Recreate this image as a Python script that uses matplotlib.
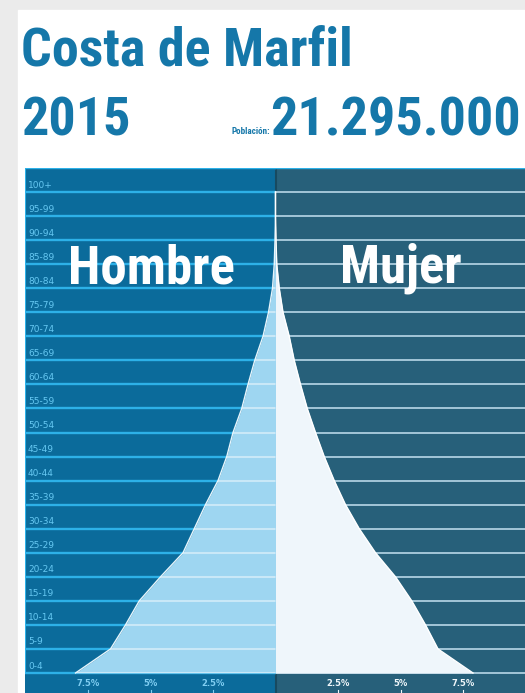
import matplotlib
matplotlib.use("Agg")
import matplotlib.pyplot as plt
from matplotlib import font_manager
from matplotlib.patches import Rectangle

# Population share by age group, % (bottom to top)
ages = ["0-4", "5-9", "10-14", "15-19", "20-24", "25-29", "30-34", "35-39",
        "40-44", "45-49", "50-54", "55-59", "60-64", "65-69", "70-74",
        "75-79", "80-84", "85-89", "90-94", "95-99", "100+"]
male = [8.0, 6.6, 6.0, 5.45, 4.6, 3.7, 3.25, 2.8, 2.3, 1.95, 1.7, 1.35,
        1.1, 0.83, 0.5, 0.28, 0.12, 0.05, 0.02, 0.0, 0.0]
female = [7.9, 6.5, 6.0, 5.45, 4.8, 4.0, 3.35, 2.8, 2.35, 1.95, 1.6, 1.27,
          1.0, 0.75, 0.55, 0.3, 0.15, 0.05, 0.02, 0.0, 0.0]
ticks = [-7.5, -5, -2.5, 2.5, 5, 7.5]
tick_labels = ["7.5%", "5%", "2.5%", "2.5%", "5%", "7.5%"]

country = "Costa de Marfil"
year = "2015"
population = "21.295.000"

BLUE = "#0b6b9b"
TEAL = "#27607a"
CYAN = "#2db1e8"
LIGHT = "#9ed6f1"
WHITE_FILL = "#eff6fb"
TITLE = "#1577a9"

# pick a narrow bold face for the headline text
installed = {f.name for f in font_manager.fontManager.ttflist}
narrow = dict(family="DejaVu Sans", stretch="condensed")
for name in ["Roboto Condensed", "Liberation Sans Narrow", "Open Sans Condensed"]:
    if name in installed:
        narrow = dict(family=name)
        break

W, H = 525, 693
fig = plt.figure(figsize=(W / 100, H / 100), dpi=100, facecolor="#ebebeb")
fig.patches.append(Rectangle((18 / W, 0), 1, (H - 10) / H, transform=fig.transFigure,
                             color="white", zorder=-5))

# headline
fig.text(21 / W, 1 - 65 / H, country, fontsize=39, fontweight="bold",
         color=TITLE, ha="left", va="baseline", **narrow)
fig.text(21 / W, 1 - 135 / H, year, fontsize=39, fontweight="bold",
         color=TITLE, ha="left", va="baseline", **narrow)
fig.text(521 / W, 1 - 135 / H, population, fontsize=39, fontweight="bold",
         color=TITLE, ha="right", va="baseline", **narrow)
fig.text(270 / W, 1 - 134 / H, "Población:", fontsize=6.5, fontweight="bold",
         color=TITLE, ha="right", va="baseline", **narrow)

row_px = (673 - 168) / 21
strip = 20 / row_px
ax = fig.add_axes([25 / W, 0, 500 / W, (H - 168) / H])
x0, x1 = -10.02, 9.98
ax.set_xlim(x0, x1)
ax.set_ylim(-strip, 21)
ax.axis("off")

ax.add_patch(Rectangle((x0, -strip), -x0, 21 + strip, color=BLUE, zorder=0))
ax.add_patch(Rectangle((0, -strip), x1, 21 + strip, color=TEAL, zorder=0))
ax.plot([0, 0], [-strip, 21], color="#184a60", lw=1.5, zorder=1)

# row separators
for k in range(22):
    ax.plot([x0, 0], [k, k], color=CYAN, lw=1.7, zorder=2, solid_capstyle="butt")
    ax.plot([0, x1], [k, k], color="#a3c6d8", lw=1.4, zorder=2, solid_capstyle="butt")
ax.plot([0, x1], [21, 21], color=CYAN, lw=1.7, zorder=2)
ax.plot([x0, x0], [0, 21], color=CYAN, lw=1.5, zorder=2)

ys = list(range(len(ages)))
mfill = ax.fill_betweenx(ys, [-v for v in male], 0, color=LIGHT, lw=0, zorder=3)
ffill = ax.fill_betweenx(ys, 0, female, color=WHITE_FILL, lw=0, zorder=3)
ax.plot([-v for v in male], ys, color="#e6f5fc", lw=1.0, zorder=4)
ax.plot(female, ys, color="#ffffff", lw=1.0, zorder=4)

# lighter separators inside the male area
mpath = mfill.get_paths()[0]
for k in range(22):
    ln, = ax.plot([x0, 0], [k, k], color="white", alpha=0.45, lw=1.5, zorder=4,
                  solid_capstyle="butt")
    ln.set_clip_path(mpath, ax.transData)

for k, age in enumerate(ages):
    ax.text(-9.9, k + 0.29, age, fontsize=6.5, color="#66c8f2",
            ha="left", va="center")

# percentage scale
for t, lab in zip(ticks, tick_labels):
    col = "#80cef2" if t < 0 else "#f0f7fa"
    ax.text(t, -0.42, lab, fontsize=6, fontweight="bold", color=col,
            ha="center", va="center")
    ax.plot([t, t], [-strip, -strip + 0.12], color=col, lw=0.8, zorder=2)

fig.text(151 / W, 1 - 283 / H, "Hombre", fontsize=38, fontweight="bold",
         color="white", ha="center", va="baseline", **narrow)
fig.text(401 / W, 1 - 283 / H, "Mujer", fontsize=38, fontweight="bold",
         color="white", ha="center", va="baseline", **narrow)

fig.savefig("out.png", dpi=100, facecolor=fig.get_facecolor())
